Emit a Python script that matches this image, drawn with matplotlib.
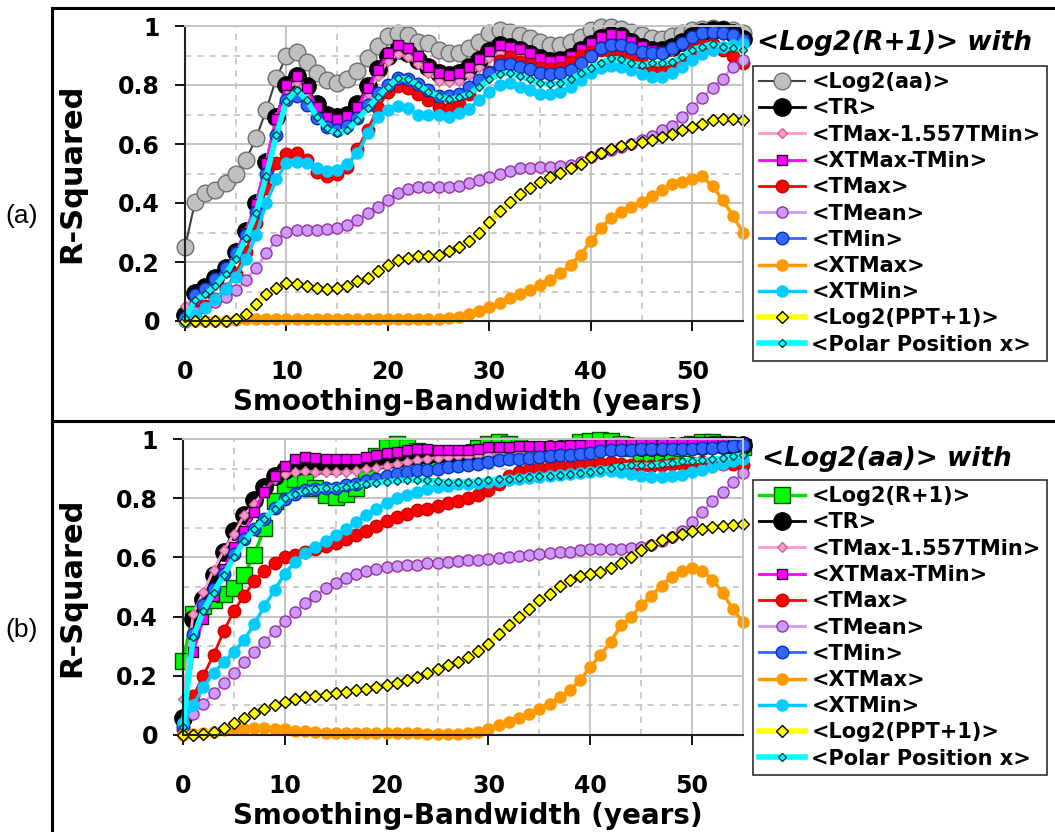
import numpy as np
import matplotlib
matplotlib.use('Agg')
import matplotlib.pyplot as plt
from matplotlib.lines import Line2D

plt.rcParams['font.family'] = 'DejaVu Sans'
plt.rcParams['font.weight'] = 'bold'

# smoothing bandwidth (years), one point per year
years = np.arange(0, 56)

# ---------------------------------------------------------------
# panel (a): R-squared of <Log2(R+1)> with each index
# ---------------------------------------------------------------
a_log2_aa = [0.25, 0.405, 0.435, 0.445, 0.467, 0.498, 0.546, 0.619, 0.715, 0.823,
             0.898, 0.913, 0.879, 0.842, 0.817, 0.808, 0.819, 0.849, 0.890, 0.932,
             0.966, 0.977, 0.969, 0.947, 0.941, 0.919, 0.907, 0.907, 0.924, 0.947,
             0.975, 0.986, 0.981, 0.969, 0.958, 0.947, 0.936, 0.936, 0.947, 0.964,
             0.986, 0.995, 0.997, 0.990, 0.980, 0.970, 0.958, 0.955, 0.965, 0.975,
             0.985, 0.990, 0.992, 0.990, 0.985, 0.975]
a_tr = [0.02, 0.095, 0.115, 0.145, 0.18, 0.235, 0.305, 0.40, 0.54, 0.69,
        0.80, 0.83, 0.795, 0.735, 0.70, 0.69, 0.70, 0.735, 0.795, 0.855,
        0.90, 0.92, 0.91, 0.885, 0.86, 0.84, 0.835, 0.84, 0.86, 0.885,
        0.915, 0.935, 0.93, 0.92, 0.905, 0.89, 0.88, 0.885, 0.895, 0.92,
        0.94, 0.96, 0.97, 0.965, 0.945, 0.93, 0.92, 0.92, 0.93, 0.947,
        0.965, 0.98, 0.985, 0.985, 0.975, 0.955]
a_tmax_1557tmin = [0.05, 0.085, 0.11, 0.14, 0.175, 0.23, 0.305, 0.40, 0.54, 0.69,
                   0.785, 0.81, 0.775, 0.71, 0.675, 0.665, 0.675, 0.705, 0.77, 0.83,
                   0.88, 0.905, 0.895, 0.87, 0.84, 0.815, 0.81, 0.815, 0.835, 0.86,
                   0.89, 0.91, 0.91, 0.90, 0.885, 0.87, 0.86, 0.862, 0.875, 0.895,
                   0.92, 0.94, 0.95, 0.948, 0.93, 0.915, 0.905, 0.905, 0.915, 0.935,
                   0.955, 0.97, 0.975, 0.97, 0.96, 0.945]
a_xtmax_tmin = [0.01, 0.07, 0.10, 0.135, 0.175, 0.23, 0.30, 0.395, 0.535, 0.685,
                0.80, 0.83, 0.79, 0.725, 0.693, 0.685, 0.696, 0.725, 0.79, 0.85,
                0.907, 0.936, 0.924, 0.898, 0.862, 0.84, 0.834, 0.84, 0.862, 0.887,
                0.916, 0.936, 0.93, 0.921, 0.907, 0.89, 0.882, 0.885, 0.898, 0.921,
                0.943, 0.964, 0.973, 0.969, 0.95, 0.932, 0.919, 0.915, 0.925, 0.945,
                0.965, 0.98, 0.985, 0.98, 0.97, 0.955]
a_tmax = [0.0, 0.03, 0.05, 0.075, 0.11, 0.16, 0.235, 0.333, 0.45, 0.535,
          0.565, 0.568, 0.545, 0.506, 0.492, 0.499, 0.523, 0.583, 0.648, 0.721,
          0.777, 0.795, 0.79, 0.77, 0.749, 0.724, 0.717, 0.735, 0.77, 0.81,
          0.845, 0.88, 0.895, 0.879, 0.868, 0.857, 0.853, 0.857, 0.879, 0.898,
          0.913, 0.918, 0.913, 0.907, 0.89, 0.875, 0.86, 0.857, 0.86, 0.884,
          0.918, 0.935, 0.94, 0.918, 0.90, 0.873]
a_tmean = [0.0, 0.03, 0.049, 0.066, 0.082, 0.105, 0.139, 0.179, 0.229, 0.275,
           0.303, 0.308, 0.308, 0.308, 0.311, 0.314, 0.325, 0.342, 0.365, 0.388,
           0.41, 0.433, 0.446, 0.453, 0.455, 0.453, 0.453, 0.458, 0.467, 0.478,
           0.489, 0.498, 0.51, 0.518, 0.518, 0.523, 0.523, 0.525, 0.53, 0.54,
           0.555, 0.568, 0.58, 0.59, 0.60, 0.612, 0.628, 0.648, 0.66, 0.69,
           0.723, 0.757, 0.791, 0.822, 0.862, 0.884]
a_tmin = [0.01, 0.088, 0.107, 0.141, 0.179, 0.229, 0.292, 0.371, 0.498, 0.63,
          0.75, 0.763, 0.732, 0.687, 0.659, 0.647, 0.661, 0.687, 0.732, 0.772,
          0.80, 0.823, 0.819, 0.805, 0.783, 0.763, 0.763, 0.77, 0.794, 0.817,
          0.84, 0.868, 0.871, 0.862, 0.853, 0.84, 0.837, 0.84, 0.851, 0.873,
          0.898, 0.924, 0.936, 0.936, 0.924, 0.913, 0.907, 0.907, 0.924, 0.941,
          0.964, 0.975, 0.98, 0.975, 0.969, 0.952]
a_xtmax = [0.0, 0.0, 0.0, 0.0, 0.0, 0.003, 0.006, 0.007, 0.008, 0.008,
           0.008, 0.008, 0.007, 0.008, 0.008, 0.008, 0.007, 0.008, 0.008, 0.008,
           0.007, 0.008, 0.008, 0.007, 0.006, 0.006, 0.009, 0.015, 0.024, 0.035,
           0.046, 0.062, 0.077, 0.092, 0.105, 0.122, 0.139, 0.162, 0.19, 0.225,
           0.27, 0.315, 0.35, 0.37, 0.385, 0.405, 0.425, 0.445, 0.465, 0.47,
           0.482, 0.49, 0.456, 0.41, 0.357, 0.30]
a_xtmin = [0.0, 0.02, 0.045, 0.075, 0.11, 0.15, 0.21, 0.29, 0.40, 0.48,
           0.535, 0.54, 0.537, 0.518, 0.51, 0.512, 0.532, 0.568, 0.636, 0.693,
           0.715, 0.729, 0.721, 0.698, 0.70, 0.698, 0.693, 0.704, 0.72, 0.749,
           0.777, 0.80, 0.806, 0.794, 0.783, 0.77, 0.77, 0.777, 0.794, 0.817,
           0.84, 0.857, 0.864, 0.862, 0.851, 0.837, 0.826, 0.826, 0.84, 0.86,
           0.885, 0.905, 0.92, 0.93, 0.935, 0.94]
a_log2_ppt = [0.0, 0.0, 0.0, 0.0, 0.0, 0.006, 0.023, 0.057, 0.091, 0.113,
              0.130, 0.127, 0.119, 0.113, 0.108, 0.111, 0.117, 0.136, 0.147, 0.170,
              0.189, 0.206, 0.215, 0.221, 0.221, 0.224, 0.238, 0.252, 0.272, 0.300,
              0.334, 0.372, 0.402, 0.431, 0.450, 0.471, 0.488, 0.501, 0.518, 0.533,
              0.556, 0.570, 0.582, 0.592, 0.599, 0.607, 0.612, 0.624, 0.635, 0.646,
              0.658, 0.669, 0.680, 0.686, 0.686, 0.680]
a_polar_x = [0.01, 0.07, 0.09, 0.12, 0.16, 0.21, 0.28, 0.365, 0.49, 0.63,
             0.745, 0.783, 0.749, 0.693, 0.653, 0.636, 0.647, 0.681, 0.721, 0.76,
             0.794, 0.823, 0.819, 0.80, 0.777, 0.763, 0.752, 0.758, 0.77, 0.794,
             0.819, 0.837, 0.84, 0.829, 0.819, 0.806, 0.803, 0.806, 0.819, 0.84,
             0.857, 0.876, 0.89, 0.887, 0.873, 0.868, 0.873, 0.873, 0.879, 0.896,
             0.92, 0.93, 0.94, 0.93, 0.925, 0.92]

# ---------------------------------------------------------------
# panel (b): R-squared of <Log2(aa)> with each index
# ---------------------------------------------------------------
b_log2_r1 = [0.25, 0.41, 0.435, 0.455, 0.475, 0.495, 0.54, 0.61, 0.70, 0.79,
             0.845, 0.865, 0.865, 0.835, 0.81, 0.805, 0.815, 0.835, 0.88, 0.945,
             0.975, 0.985, 0.975, 0.96, 0.94, 0.925, 0.92, 0.925, 0.945, 0.97,
             0.985, 0.99, 0.985, 0.975, 0.965, 0.955, 0.955, 0.96, 0.975, 0.99,
             0.995, 0.998, 0.995, 0.985, 0.97, 0.95, 0.94, 0.945, 0.955, 0.97,
             0.985, 0.99, 0.99, 0.985, 0.98, 0.975]
b_tr = [0.055, 0.39, 0.46, 0.54, 0.62, 0.69, 0.745, 0.795, 0.84, 0.875,
        0.895, 0.905, 0.91, 0.91, 0.908, 0.91, 0.912, 0.915, 0.92, 0.925,
        0.93, 0.935, 0.94, 0.945, 0.948, 0.95, 0.95, 0.951, 0.952, 0.955,
        0.958, 0.96, 0.962, 0.963, 0.964, 0.965, 0.966, 0.967, 0.968, 0.97,
        0.972, 0.974, 0.975, 0.975, 0.976, 0.975, 0.974, 0.975, 0.976, 0.977,
        0.978, 0.979, 0.98, 0.981, 0.98, 0.98]
b_tmax_1557tmin = [0.12, 0.41, 0.483, 0.557, 0.624, 0.68, 0.743, 0.782, 0.827, 0.867,
                   0.884, 0.889, 0.892, 0.889, 0.888, 0.889, 0.89, 0.892, 0.898, 0.903,
                   0.91, 0.918, 0.924, 0.929, 0.935, 0.938, 0.94, 0.942, 0.944, 0.946,
                   0.948, 0.95, 0.952, 0.953, 0.954, 0.955, 0.956, 0.957, 0.958, 0.959,
                   0.96, 0.961, 0.962, 0.963, 0.964, 0.965, 0.965, 0.966, 0.967, 0.968,
                   0.969, 0.97, 0.97, 0.971, 0.972, 0.972]
b_xtmax_tmin = [0.03, 0.28, 0.39, 0.47, 0.56, 0.635, 0.69, 0.755, 0.82, 0.875,
                0.91, 0.935, 0.94, 0.937, 0.932, 0.932, 0.932, 0.935, 0.94, 0.948,
                0.952, 0.958, 0.963, 0.966, 0.966, 0.963, 0.963, 0.963, 0.964, 0.968,
                0.974, 0.974, 0.975, 0.977, 0.977, 0.977, 0.978, 0.979, 0.980, 0.981,
                0.985, 0.985, 0.985, 0.985, 0.986, 0.986, 0.986, 0.987, 0.988, 0.989,
                0.99, 0.99, 0.99, 0.989, 0.988, 0.988]
b_tmax = [0.02, 0.13, 0.2, 0.27, 0.35, 0.42, 0.47, 0.52, 0.555, 0.58,
          0.6, 0.61, 0.62, 0.63, 0.64, 0.65, 0.662, 0.675, 0.69, 0.707,
          0.725, 0.737, 0.748, 0.76, 0.765, 0.775, 0.785, 0.79, 0.80, 0.81,
          0.83, 0.85, 0.875, 0.89, 0.898, 0.903, 0.906, 0.908, 0.91, 0.914,
          0.918, 0.921, 0.923, 0.918, 0.912, 0.908, 0.91, 0.912, 0.915, 0.918,
          0.92, 0.922, 0.92, 0.918, 0.915, 0.912]
b_tmean = [0.04, 0.07, 0.105, 0.14, 0.175, 0.21, 0.245, 0.28, 0.315, 0.35,
           0.385, 0.415, 0.445, 0.47, 0.495, 0.515, 0.53, 0.545, 0.555, 0.562,
           0.567, 0.571, 0.574, 0.576, 0.58, 0.582, 0.585, 0.587, 0.59, 0.593,
           0.596, 0.598, 0.60, 0.605, 0.61, 0.613, 0.616, 0.618, 0.62, 0.624,
           0.627, 0.627, 0.63, 0.63, 0.632, 0.635, 0.643, 0.655, 0.668, 0.69,
           0.72, 0.755, 0.79, 0.823, 0.855, 0.885]
b_tmin = [0.03, 0.34, 0.438, 0.494, 0.545, 0.613, 0.664, 0.697, 0.731, 0.767,
          0.799, 0.816, 0.827, 0.833, 0.835, 0.835, 0.844, 0.85, 0.858, 0.867,
          0.876, 0.884, 0.889, 0.895, 0.895, 0.9, 0.905, 0.909, 0.912, 0.918,
          0.923, 0.929, 0.932, 0.934, 0.937, 0.94, 0.943, 0.946, 0.948, 0.951,
          0.955, 0.959, 0.963, 0.963, 0.965, 0.966, 0.966, 0.966, 0.966, 0.967,
          0.968, 0.97, 0.972, 0.975, 0.978, 0.98]
b_xtmax = [0.0, 0.002, 0.005, 0.01, 0.015, 0.018, 0.02, 0.022, 0.022, 0.02,
           0.018, 0.014, 0.011, 0.009, 0.007, 0.006, 0.005, 0.005, 0.005, 0.005,
           0.005, 0.005, 0.005, 0.005, 0.004, 0.004, 0.004, 0.004, 0.006, 0.01,
           0.02, 0.032, 0.043, 0.056, 0.071, 0.088, 0.105, 0.128, 0.15, 0.184,
           0.229, 0.269, 0.314, 0.37, 0.398, 0.438, 0.47, 0.505, 0.535, 0.553,
           0.563, 0.555, 0.525, 0.48, 0.425, 0.38]
b_xtmin = [0.04, 0.1, 0.16, 0.21, 0.245, 0.28, 0.32, 0.375, 0.435, 0.49,
           0.545, 0.585, 0.615, 0.635, 0.655, 0.675, 0.697, 0.72, 0.743, 0.765,
           0.785, 0.80, 0.812, 0.822, 0.832, 0.838, 0.843, 0.847, 0.85, 0.853,
           0.856, 0.86, 0.863, 0.866, 0.87, 0.873, 0.877, 0.88, 0.883, 0.887,
           0.89, 0.893, 0.893, 0.89, 0.882, 0.875, 0.872, 0.872, 0.875, 0.88,
           0.888, 0.896, 0.905, 0.915, 0.925, 0.935]
b_log2_ppt = [0.0, 0.0, 0.003, 0.01, 0.022, 0.038, 0.055, 0.072, 0.088, 0.1,
              0.112, 0.12, 0.126, 0.131, 0.136, 0.141, 0.146, 0.151, 0.156, 0.162,
              0.169, 0.176, 0.186, 0.195, 0.21, 0.221, 0.235, 0.246, 0.263, 0.282,
              0.308, 0.342, 0.37, 0.398, 0.427, 0.455, 0.477, 0.503, 0.523, 0.537,
              0.545, 0.551, 0.564, 0.582, 0.601, 0.624, 0.641, 0.658, 0.669, 0.68,
              0.69, 0.697, 0.703, 0.707, 0.71, 0.712]
b_polar_x = [0.027, 0.33, 0.42, 0.48, 0.54, 0.60, 0.655, 0.695, 0.73, 0.765,
             0.80, 0.815, 0.825, 0.832, 0.835, 0.835, 0.84, 0.845, 0.85, 0.853,
             0.856, 0.86, 0.862, 0.862, 0.861, 0.858, 0.855, 0.855, 0.855, 0.858,
             0.861, 0.865, 0.867, 0.869, 0.872, 0.875, 0.877, 0.88, 0.882, 0.885,
             0.889, 0.895, 0.903, 0.91, 0.912, 0.912, 0.912, 0.917, 0.92, 0.925,
             0.928, 0.93, 0.932, 0.936, 0.942, 0.947]

# line / marker look of each index
styles = {
    '<Log2(aa)>': dict(color='#404040', lw=1.5, marker='o', ms=12, mfc='#C0C0C0', mec='#707070'),
    '<Log2(R+1)>': dict(color='#00DD00', lw=2.5, marker='s', ms=12, mfc='#00FF00', mec='#005500'),
    '<TR>': dict(color='black', lw=2, marker='o', ms=12.5, mfc='black', mec='black'),
    '<TMax-1.557TMin>': dict(color='#FF99CC', lw=2, marker='D', ms=5, mfc='#FF99CC', mec='#CC6699'),
    '<XTMax-TMin>': dict(color='#FF00FF', lw=2, marker='s', ms=6.5, mfc='#FF00FF', mec='#330033'),
    '<TMax>': dict(color='#FF0000', lw=2, marker='o', ms=9, mfc='#FF0000', mec='#CC0000'),
    '<TMean>': dict(color='#CC99FF', lw=2, marker='o', ms=8, mfc='#CC99FF', mec='#993399'),
    '<TMin>': dict(color='#3366FF', lw=2, marker='o', ms=9, mfc='#3366FF', mec='#0033BB'),
    '<XTMax>': dict(color='#FF9900', lw=2.5, marker='o', ms=8, mfc='#FF9900', mec='#FF9900'),
    '<XTMin>': dict(color='#00CCFF', lw=2.5, marker='o', ms=8, mfc='#00CCFF', mec='#00CCFF'),
    '<Log2(PPT+1)>': dict(color='#FFFF00', lw=4, marker='D', ms=6.3, mfc='#FFFF00', mec='black'),
    '<Polar Position x>': dict(color='#00FFFF', lw=4, marker='D', ms=4.3, mfc='#00FFFF', mec='#004444'),
}

panel_a = [('<Log2(aa)>', a_log2_aa), ('<TR>', a_tr), ('<TMax-1.557TMin>', a_tmax_1557tmin),
           ('<XTMax-TMin>', a_xtmax_tmin), ('<TMax>', a_tmax), ('<TMean>', a_tmean),
           ('<TMin>', a_tmin), ('<XTMax>', a_xtmax), ('<XTMin>', a_xtmin),
           ('<Log2(PPT+1)>', a_log2_ppt), ('<Polar Position x>', a_polar_x)]
panel_b = [('<Log2(R+1)>', b_log2_r1), ('<TR>', b_tr), ('<TMax-1.557TMin>', b_tmax_1557tmin),
           ('<XTMax-TMin>', b_xtmax_tmin), ('<TMax>', b_tmax), ('<TMean>', b_tmean),
           ('<TMin>', b_tmin), ('<XTMax>', b_xtmax), ('<XTMin>', b_xtmin),
           ('<Log2(PPT+1)>', b_log2_ppt), ('<Polar Position x>', b_polar_x)]

W, H = 1055, 832
fig = plt.figure(figsize=(W / 100, H / 100), dpi=100)


def draw_panel(rect, curves, title, title_xy, legend_top, xlabel_x):
    ax = fig.add_axes(rect)
    for label, vals in curves:
        ax.plot(years, vals, label=label, clip_on=False, **styles[label])
    ax.set_xlim(0, 55)
    ax.set_ylim(0, 1)
    ax.set_xticks([0, 10, 20, 30, 40, 50])
    ax.set_xticks([5, 15, 25, 35, 45], minor=True)
    ax.set_yticks([0, 0.2, 0.4, 0.6, 0.8, 1.0], labels=['0', '0.2', '0.4', '0.6', '0.8', '1'])
    ax.set_yticks([0.1, 0.3, 0.5, 0.7, 0.9], minor=True)
    ax.grid(which='major', color='#C4C4C4', lw=1.4, ls='-')
    ax.grid(which='minor', color='#BDBDBD', lw=1.1, ls=(0, (4, 4)))
    ax.set_axisbelow(True)
    ax.tick_params(which='major', direction='out', length=7, width=1.3, labelsize=17)
    ax.tick_params(axis='x', which='major', pad=21)
    ax.tick_params(axis='y', which='major', pad=11)
    ax.tick_params(which='minor', length=0)
    for side in ('left', 'bottom'):
        ax.spines[side].set_color('#222222')
        ax.spines[side].set_linewidth(1.5)
    for side in ('top', 'right'):
        ax.spines[side].set_color('#C4C4C4')
        ax.spines[side].set_linewidth(1.4)

    ax.set_ylabel('R-Squared', fontsize=22, fontweight='bold')
    ax.yaxis.set_label_coords((86.7 / W - rect[0]) / rect[2], 0.5)
    ax.set_xlabel('Smoothing-Bandwidth (years)', fontsize=20, fontweight='bold')
    ax.xaxis.set_label_coords(xlabel_x, -0.275)
    ax.xaxis.label.set_va('center')

    fig.text(title_xy[0] / W, 1 - title_xy[1] / H, title, fontsize=19,
             fontweight='bold', style='italic', ha='left', va='center')

    leg = ax.legend(loc='upper left', bbox_to_anchor=(753 / W, 1 - legend_top / H),
                    bbox_transform=fig.transFigure, borderaxespad=0,
                    prop={'size': 15, 'weight': 'bold'}, fancybox=False,
                    framealpha=1, edgecolor='#303030', handlelength=2.2,
                    handletextpad=0.3, labelspacing=0.3, borderpad=0.3)
    leg.get_frame().set_linewidth(1.2)
    return ax


draw_panel([185 / W, 1 - 321 / H, 558 / W, 295 / H], panel_a,
           '<Log2(R+1)> with', (757, 43), 66, 0.506)
draw_panel([183 / W, 1 - 734.7 / H, 560 / W, 295.4 / H], panel_b,
           '<Log2(aa)> with', (762, 459), 480, 0.508)

# panel tags
fig.text(21.7 / W, 1 - 216 / H, '(a)', fontsize=19, fontweight='normal',
         family='Liberation Sans', ha='center', va='center')
fig.text(21.7 / W, 1 - 630 / H, '(b)', fontsize=19, fontweight='normal',
         family='Liberation Sans', ha='center', va='center')

# frame lines around the two panels
x0, ytop, ymid = 51.7 / W, 1 - 8.3 / H, 1 - 420.7 / H
for xs, ys in [([x0, x0], [0, ytop]), ([x0, 1], [ytop, ytop]), ([x0, 1], [ymid, ymid])]:
    fig.add_artist(Line2D(xs, ys, transform=fig.transFigure, color='black', lw=2.2))

fig.savefig('out.png', dpi=100)
